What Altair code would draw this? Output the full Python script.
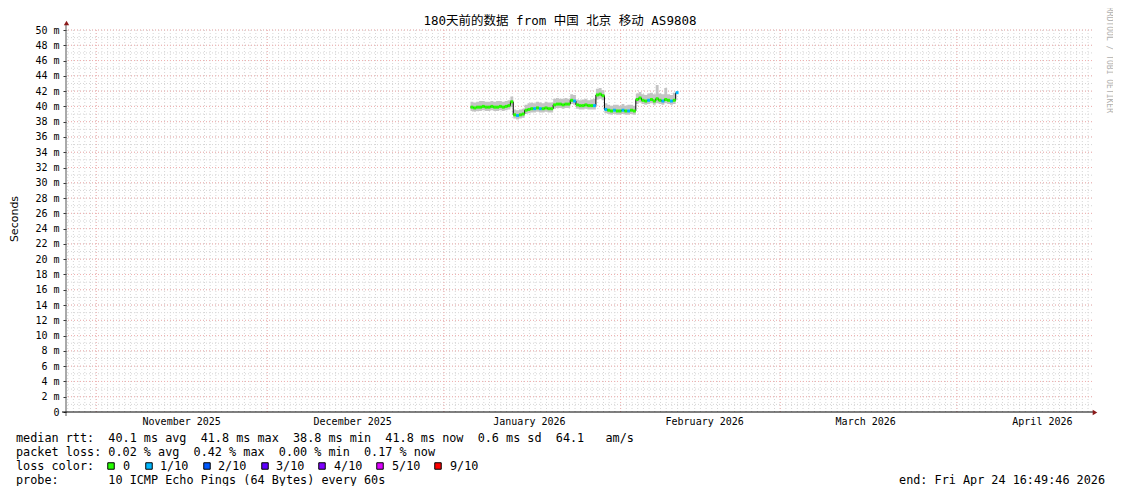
import altair as alt
import pandas as pd

# ---------------- data ----------------
title_text = "180天前的数据 from 中国 北京 移动 AS9808"
range_start = "2025-10-26T16:49:46"
range_end = "2026-04-24T16:49:46"
sample_start = "2026-01-05T16:00:00"
sample_hours = 12

median = [39.9, 39.8, 39.9, 39.9, 40.0, 39.9, 39.9, 40.0, 39.9, 39.9, 40.0, 39.9, 40.0, 40.1,
          40.6,
          38.9, 38.8, 38.9, 39.0,
          39.5,
          39.6, 39.7, 39.7, 39.8, 39.7, 39.7, 39.8, 39.7, 39.7,
          40.2, 40.3, 40.3, 40.2, 40.3, 40.3,
          40.8, 40.7,
          40.2, 40.1, 40.1, 40.2, 40.1, 40.1, 40.1,
          41.5, 41.6, 41.4,
          39.6,
          39.5, 39.4, 39.5, 39.4, 39.4, 39.5, 39.4, 39.4, 39.5, 39.4,
          40.9, 41.1, 40.8, 40.7, 40.8, 40.9, 40.7, 41.0, 40.8, 40.7, 40.9, 40.8, 40.7, 40.8,
          41.8]

smoke_hi = [40.6, 40.5, 40.6, 40.7, 40.7, 40.6, 40.6, 40.7, 40.6, 40.7, 40.7, 40.6, 40.7, 40.8,
            41.3,
            39.6, 39.5, 39.6, 39.7,
            40.2,
            40.4, 40.5, 40.4, 40.6, 40.5, 40.4, 40.6, 40.5, 40.5,
            41.0, 41.1, 41.0, 41.0, 41.1, 41.0,
            41.6, 41.5,
            40.9, 40.8, 40.9, 41.0, 40.8, 40.9, 41.0,
            42.3, 42.4, 42.1,
            40.4,
            40.2, 40.1, 40.2, 40.2, 40.1, 40.3, 40.1, 40.2, 40.2, 40.1,
            41.7, 41.9, 41.6, 41.5, 41.7, 41.8, 41.6, 42.8, 41.7, 41.6, 42.4, 41.6, 41.5, 41.8,
            43.6]

smoke_lo = [39.4, 39.3, 39.4, 39.4, 39.5, 39.4, 39.4, 39.5, 39.4, 39.4, 39.5, 39.4, 39.5, 39.6,
            39.9,
            38.4, 38.3, 38.4, 38.5,
            39.0,
            39.1, 39.2, 39.2, 39.3, 39.2, 39.2, 39.3, 39.2, 39.2,
            39.7, 39.8, 39.8, 39.7, 39.8, 39.8,
            40.3, 40.2,
            39.7, 39.6, 39.6, 39.7, 39.6, 39.6, 39.6,
            40.9, 41.0, 40.8,
            39.1,
            39.0, 38.9, 39.0, 38.9, 38.9, 39.0, 38.9, 38.9, 39.0, 38.9,
            40.3, 40.5, 40.3, 40.2, 40.3, 40.4, 40.2, 40.4, 40.3, 40.2, 40.4, 40.3, 40.2, 40.3,
            41.1]

# packets lost out of 10 for each sample
loss = [0, 0, 0, 0, 0, 0, 0, 0, 0, 0, 0, 0, 0, 0,
        0,
        0, 1, 0, 0,
        0,
        0, 0, 1, 0, 1, 0, 0, 0, 0,
        0, 0, 0, 0, 0, 0,
        0, 1,
        0, 0, 0, 0, 0, 0, 1,
        0, 0, 0,
        1,
        0, 0, 1, 0, 0, 1, 0, 1, 0, 0,
        0, 0, 0, 0, 1, 0, 0, 0, 0, 1, 0, 0, 1, 0,
        1]

loss_values = [0, 1, 2, 3, 4, 5, 9]
loss_labels = ["0", "1/10", "2/10", "3/10", "4/10", "5/10", "9/10"]
loss_colors = ["#26ff00", "#00b8ff", "#0059ff", "#5e00ff", "#7e00ff", "#dd00ff", "#ff0000"]

month_starts = ["2025-11-01T00:00:00", "2025-12-01T00:00:00", "2026-01-01T00:00:00",
                "2026-02-01T00:00:00", "2026-03-01T00:00:00", "2026-04-01T00:00:00"]
month_label_at = ["2025-11-16T00:00:00", "2025-12-16T00:00:00", "2026-01-16T00:00:00",
                  "2026-02-15T18:00:00", "2026-03-16T00:00:00", "2026-04-16T00:00:00"]
month_labels = ["November 2025", "December 2025", "January 2026",
                "February 2026", "March 2026", "April 2026"]

y_label_values = list(range(0, 51, 2))
y_minor_values = list(range(1, 51))

stat_lines = [
    "median rtt:  40.1 ms avg  41.8 ms max  38.8 ms min  41.8 ms now  0.6 ms sd  64.1   am/s",
    "packet loss: 0.02 % avg  0.42 % max  0.00 % min  0.17 % now",
    "loss color:",
    "probe:       10 ICMP Echo Pings (64 Bytes) every 60s",
]
end_text = "end: Fri Apr 24 16:49:46 2026"
watermark = "RRDTOOL / TOBI OETIKER"

# ---------------- layout (pixels, relative to plot origin) ----------------
W, H = 1026, 382
PAD_L, PAD_T = 58, 22
legend_square_x = [45, 83, 141, 199, 256, 314, 372]
legend_label_x = [57, 94, 152, 210, 268, 326, 384]
line_y = [408, 422, 436, 450]
MONO = "DejaVu Sans Mono"
TXT = 11.8

# ---------------- build ----------------
times = pd.date_range(sample_start, periods=len(median), freq=f"{sample_hours}h")
df = pd.DataFrame({
    "t": times,
    "t2": times + pd.Timedelta(hours=sample_hours),
    "median": median,
    "lo": smoke_lo,
    "hi": smoke_hi,
    "loss": loss,
})


def dt(s):
    ts = pd.Timestamp(s)
    return alt.DateTime(year=ts.year, month=ts.month, date=ts.day,
                        hours=ts.hour, minutes=ts.minute, seconds=ts.second)


xs = alt.Scale(domain=[dt(range_start), dt(range_end)])
ys = alt.Scale(domain=[0, 50], nice=False, zero=False)
one = pd.DataFrame({"k": [0]})

y_axis = alt.Axis(
    values=y_label_values,
    labelExpr="datum.value == 0 ? '0\u00a0\u00a0' : datum.value + '\u00a0m'",
    grid=False, domain=False, ticks=True, tickSize=3, tickColor="#333333",
    labelFont=MONO, labelFontSize=10, labelColor="#000000", labelPadding=4,
    title=None)

minor_days = pd.date_range("2025-10-27T00:00:00", "2026-04-24T00:00:00", freq="1D")
minor_v = alt.Chart(pd.DataFrame({"d": minor_days})).mark_rule(
    color="#d6d6d6", strokeDash=[1, 2], strokeWidth=1
).encode(x=alt.X("d:T", scale=xs, axis=None))

major_v = alt.Chart(pd.DataFrame({"d": pd.to_datetime(month_starts)})).mark_rule(
    color="#f2b0b0", strokeDash=[1, 2], strokeWidth=1
).encode(x=alt.X("d:T", scale=xs, axis=None))

minor_h = alt.Chart(pd.DataFrame({"v": y_minor_values})).mark_rule(
    color="#d6d6d6", strokeDash=[1, 2], strokeWidth=1
).encode(y=alt.Y("v:Q", scale=ys, axis=y_axis))

major_h = alt.Chart(pd.DataFrame({"v": y_label_values[1:]})).mark_rule(
    color="#f2b0b0", strokeDash=[1, 2], strokeWidth=1
).encode(y=alt.Y("v:Q", scale=ys, axis=y_axis))

smoke = alt.Chart(df).mark_area(color="#c4c4c4", interpolate="step-after").encode(
    x=alt.X("t:T", scale=xs, axis=None),
    y=alt.Y("lo:Q", scale=ys, axis=y_axis),
    y2="hi:Q",
)

step = alt.Chart(df).mark_line(color="#000000", strokeWidth=1, interpolate="step-after").encode(
    x=alt.X("t:T", scale=xs, axis=None),
    y=alt.Y("median:Q", scale=ys, axis=y_axis),
)

segs = alt.Chart(df).mark_rule(strokeWidth=3).encode(
    x=alt.X("t:T", scale=xs, axis=None),
    x2="t2:T",
    y=alt.Y("median:Q", scale=ys, axis=y_axis),
    color=alt.Color("loss:O", scale=alt.Scale(domain=loss_values, range=loss_colors), legend=None),
)

y_axis_line = alt.Chart(one).mark_rule(color="#555555", strokeWidth=1).encode(
    x=alt.value(0), y=alt.value(-6), y2=alt.value(H + 4))
x_axis_line = alt.Chart(one).mark_rule(color="#000000", strokeWidth=1).encode(
    x=alt.value(-4), x2=alt.value(W + 1), y=alt.value(H))
y_arrow = alt.Chart(one).mark_point(shape="triangle-up", filled=True, size=28,
                                    color="#8b1a1a", opacity=1).encode(
    x=alt.value(0.5), y=alt.value(-7))
x_arrow = alt.Chart(one).mark_point(shape="triangle-right", filled=True, size=28,
                                    color="#8b1a1a", opacity=1).encode(
    x=alt.value(W + 3), y=alt.value(H + 0.5))

month_text = alt.Chart(pd.DataFrame({"d": pd.to_datetime(month_label_at), "lab": month_labels})).mark_text(
    font=MONO, fontSize=10, color="#000000", baseline="middle"
).encode(x=alt.X("d:T", scale=xs, axis=None), y=alt.value(H + 9.5), text="lab:N")

title = alt.Chart(one).mark_text(
    text=title_text, font=f"{MONO}, Noto Sans CJK SC", fontSize=12.5, color="#000000",
    align="center", baseline="middle"
).encode(x=alt.value(494), y=alt.value(-9))

ytitle = alt.Chart(one).mark_text(
    text="Seconds", font="DejaVu Sans", fontSize=11, color="#000000",
    angle=270, align="center", baseline="middle"
).encode(x=alt.value(-51), y=alt.value(189))

wm = alt.Chart(one).mark_text(
    text=watermark, font=MONO, fontSize=8, color="#b0b0b0",
    angle=90, align="center", baseline="middle"
).encode(x=alt.value(1043), y=alt.value(30))

layers = [minor_v, minor_h, major_v, major_h, smoke, step, segs,
          y_axis_line, x_axis_line, y_arrow, x_arrow, month_text, title, ytitle, wm]

for s, yy in zip(stat_lines, line_y):
    layers.append(alt.Chart(one).mark_text(
        text=s.replace(" ", "\u00a0"), font=MONO, fontSize=TXT, color="#000000",
        align="left", baseline="middle").encode(x=alt.value(-50), y=alt.value(yy)))

layers.append(alt.Chart(one).mark_text(
    text=end_text.replace(" ", "\u00a0"), font=MONO, fontSize=TXT, color="#000000",
    align="right", baseline="middle").encode(x=alt.value(1039), y=alt.value(line_y[3])))

for lab, col, sx, lx in zip(loss_labels, loss_colors, legend_square_x, legend_label_x):
    layers.append(alt.Chart(one).mark_square(
        size=42, filled=True, color=col, stroke="#000000", strokeWidth=1, opacity=1
    ).encode(x=alt.value(sx), y=alt.value(line_y[2])))
    layers.append(alt.Chart(one).mark_text(
        text=lab, font=MONO, fontSize=TXT, color="#000000", align="left", baseline="middle"
    ).encode(x=alt.value(lx), y=alt.value(line_y[2])))

chart = alt.layer(*layers).properties(
    width=W, height=H,
    autosize=alt.AutoSizeParams(type="none"),
    padding={"left": PAD_L, "top": PAD_T, "right": 21, "bottom": 74},
    background="#ffffff",
).configure_view(stroke=None)

chart.save("out.html", embed_options={"renderer": "svg", "actions": False})
